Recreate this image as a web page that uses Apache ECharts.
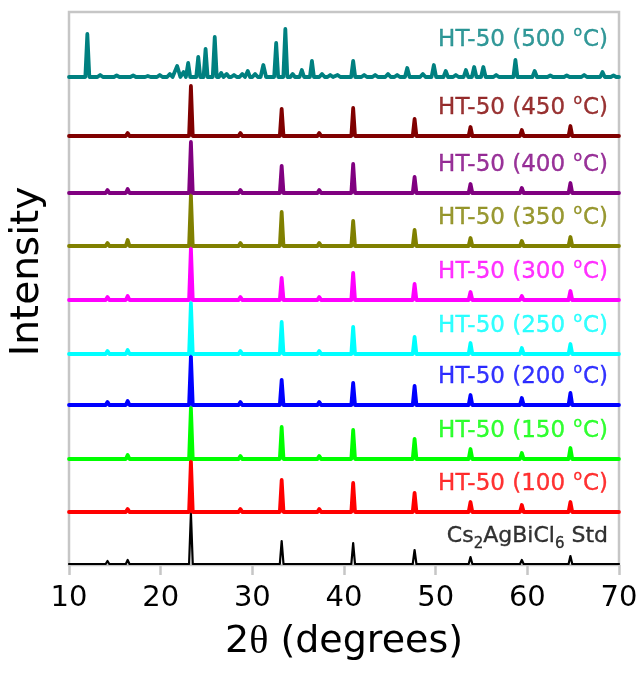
<!DOCTYPE html>
<html>
<head>
<meta charset="utf-8">
<script src="https://cdn.jsdelivr.net/npm/echarts@6/dist/echarts.min.js"></script>
<style>
  html, body { margin: 0; padding: 0; background: #ffffff; }
  #chart { width: 644px; height: 675px; }
</style>
</head>
<body>
<div id="chart"></div>
<script>
// 2θ tick values (degrees)
const xTicks = [10, 20, 30, 40, 50, 60, 70];

// Reflection positions of cubic Cs2AgBiCl6 (2θ, degrees)
const reflections = [14.2, 16.4, 23.3, 27.4, 28.7, 33.2, 36.3, 37.3, 41.0, 43.6,
                     47.7, 50.0, 50.8, 53.8, 56.6, 59.4, 62.0, 64.7, 66.6, 69.7];

// Peak heights at each reflection (arbitrary intensity units)
const stdHeights  = [3, 4, 51, 2, 2, 23, 1, 2, 21, 1, 14, 1, 2, 7, 1, 4, 1, 8, 1, 0.5];
const h100 = [2, 3, 51, 2, 3, 32, 1, 3, 29, 1, 19, 1, 2, 10, 1, 7, 1, 10, 1, 1];
const h150 = [2, 4, 51, 2, 3, 32, 1, 3, 29, 1, 20, 1, 2, 10, 1, 6, 1, 11, 1, 1];
const h200 = [3, 4, 49, 2, 3, 25, 1, 3, 22, 1, 19, 1, 2, 10, 1, 7, 1, 12, 1, 1];
const h250 = [3, 4, 51, 2, 3, 32, 1, 3, 27, 1, 17, 1, 2, 11, 1, 6, 1, 10, 1, 1];
const h300 = [3, 4, 52, 2, 3, 22, 1, 3, 27, 1, 16, 1, 2, 8, 1, 4, 1, 9, 1, 1];
const h350 = [3, 6, 51, 2, 3, 34, 1, 3, 25, 1, 16, 1, 2, 8, 1, 5, 1, 9, 1, 1];
const h400 = [3, 4, 51, 2, 3, 27, 1, 3, 29, 1, 16, 1, 2, 9, 1, 5, 1, 10, 1, 1];
const h450 = [2, 3, 50, 2, 3, 27, 1, 3, 28, 1, 17, 1, 2, 9, 1, 6, 1, 10, 1, 1];

// Decomposed sample at 500 °C: [2θ, height, half-width]
const peaks500 = [
  [12.0, 43, 0.22], [13.4, 2, 0.3], [15.2, 1.5, 0.3], [17.0, 1.5, 0.3], [18.6, 1, 0.3],
  [19.9, 2, 0.3], [21.0, 3, 0.3], [21.8, 11, 0.35], [22.5, 5, 0.25], [23.0, 14, 0.22],
  [24.1, 20, 0.22], [24.9, 28, 0.22], [25.9, 40, 0.22], [26.6, 4, 0.25], [27.2, 3, 0.25],
  [28.0, 2, 0.3], [28.9, 3, 0.3], [29.5, 6, 0.25], [30.3, 3, 0.3], [31.2, 12, 0.3],
  [32.6, 34, 0.22], [33.6, 48, 0.22], [34.4, 3, 0.25], [35.4, 7, 0.25], [36.5, 16, 0.22],
  [37.6, 3, 0.3], [38.5, 2, 0.3], [39.3, 2, 0.3], [41.0, 16, 0.22], [42.2, 2, 0.3],
  [43.4, 2, 0.3], [44.8, 3, 0.3], [45.8, 2, 0.3], [46.9, 9, 0.25], [48.6, 3, 0.3],
  [49.8, 12, 0.25], [51.1, 6, 0.25], [52.2, 2, 0.3], [53.3, 7, 0.25], [54.2, 10, 0.25],
  [55.2, 10, 0.25], [56.6, 2, 0.3], [58.7, 17, 0.22], [60.8, 6, 0.25], [62.5, 1.5, 0.3],
  [64.3, 1.5, 0.3], [66.2, 2, 0.3], [68.2, 5, 0.25], [69.4, 1.5, 0.3]
];

// Heat-treatment temperatures (°C), bottom to top above the standard
const temperatures = ['100', '150', '200', '250', '300', '350', '400', '450', '500'];

// Vertical offset of each pattern, bottom (Std) to top (500 °C)
const offsets = [1, 53, 106, 160, 211, 265, 319, 372, 429, 488];

const colors = ['#000000', '#ff0000', '#00ff00', '#0000ff', '#00ffff',
                '#ff00ff', '#808000', '#800080', '#800000', '#008080'];

const FONT = 'DejaVu Sans';
const PEAK_HW = 0.2;      // half-width of a reflection (degrees)
const LABEL_LIFT = 28;    // label centre above baseline
const LABEL_X = 68.8;     // right end of the labels (2θ)

// Build one polyline from baseline and peak triangles
function profile(peaks, base) {
  const pts = [[10, base]];
  peaks.forEach(([p, h, w]) => {
    const hw = w || PEAK_HW;
    pts.push([p - hw, base], [p, base + h], [p + hw, base]);
  });
  pts.push([70, base]);
  return pts;
}

const patterns = [
  reflections.map((p, i) => [p, stdHeights[i], 0.2]),
  reflections.map((p, i) => [p, h100[i]]),
  reflections.map((p, i) => [p, h150[i]]),
  reflections.map((p, i) => [p, h200[i]]),
  reflections.map((p, i) => [p, h250[i]]),
  reflections.map((p, i) => [p, h300[i]]),
  reflections.map((p, i) => [p, h350[i]]),
  reflections.map((p, i) => [p, h400[i]]),
  reflections.map((p, i) => [p, h450[i]]),
  peaks500
];

const series = patterns.map((pk, i) => ({
  type: 'line',
  data: profile(pk, offsets[i]),
  showSymbol: false,
  symbol: 'none',
  silent: true,
  lineStyle: {
    color: colors[i],
    width: i === 0 ? 2.2 : 3.8,
    join: 'round',
    cap: 'round'
  },
  z: 2 + i
}));

// Rich-text styles for a label: main text, raised "o" and lowered digits
function labelRich(color) {
  const base = { color, fontFamily: FONT, textBorderColor: color, textBorderWidth: 0.35 };
  return {
    t:   Object.assign({ fontSize: 23, lineHeight: 30 }, base),
    ts:  Object.assign({ fontSize: 22, lineHeight: 30 }, base),
    sup: Object.assign({ fontSize: 14, lineHeight: 12, padding: [0, 1, 16, 1] }, base),
    sub: Object.assign({ fontSize: 15, lineHeight: 12, padding: [16, 0, 0, 0] }, base)
  };
}

const labelTexts = [
  '{ts|Cs}{sub|2}{ts|AgBiCl}{sub|6}{ts| Std}',
  ...temperatures.map(t => '{t|HT-50 (' + t + ' }{sup|o}{t|C)}')
];

// Sample labels, right-aligned above each baseline
series.push({
  type: 'scatter',
  data: offsets.map((off, i) => ({
    value: [LABEL_X, off + (i === 9 ? 37 : LABEL_LIFT)],
    label: {
      show: true,
      position: 'left',
      distance: 0,
      formatter: labelTexts[i],
      rich: labelRich(colors[i])
    }
  })),
  symbolSize: 0,
  silent: true,
  z: 20
});

const chart = echarts.init(document.getElementById('chart'), null, { renderer: 'canvas' });
chart.setOption({
  animation: false,
  backgroundColor: '#ffffff',
  grid: {
    left: 69, right: 25, top: 12, bottom: 110,
    show: true, borderColor: '#c6c6c6', borderWidth: 2.5, backgroundColor: 'transparent'
  },
  xAxis: {
    type: 'value',
    min: xTicks[0],
    max: xTicks[xTicks.length - 1],
    interval: 10,
    axisLine: { show: false },
    axisTick: { show: true, inside: false, length: 10, lineStyle: { color: '#c6c6c6', width: 2.5 } },
    splitLine: { show: false },
    axisLabel: { fontSize: 29, color: '#000000', fontFamily: FONT, margin: 19 },
    name: '{a|2}{th|θ}{a| (degrees)}',
    nameLocation: 'middle',
    nameGap: 57,
    nameTextStyle: {
      fontSize: 38, color: '#000000', fontFamily: FONT,
      rich: {
        a: { fontSize: 38, color: '#000000', fontFamily: FONT },
        th: { fontSize: 40, color: '#000000', fontFamily: 'Liberation Serif' }
      }
    }
  },
  yAxis: {
    type: 'value',
    min: 0,
    max: 553,
    axisLine: { show: false },
    axisTick: { show: false },
    axisLabel: { show: false },
    splitLine: { show: false },
    name: 'Intensity',
    nameLocation: 'middle',
    nameGap: 22,
    nameTextStyle: { fontSize: 39, color: '#000000', fontFamily: FONT, padding: [0, 0, 0, 34] }
  },
  series
});
</script>
</body>
</html>
